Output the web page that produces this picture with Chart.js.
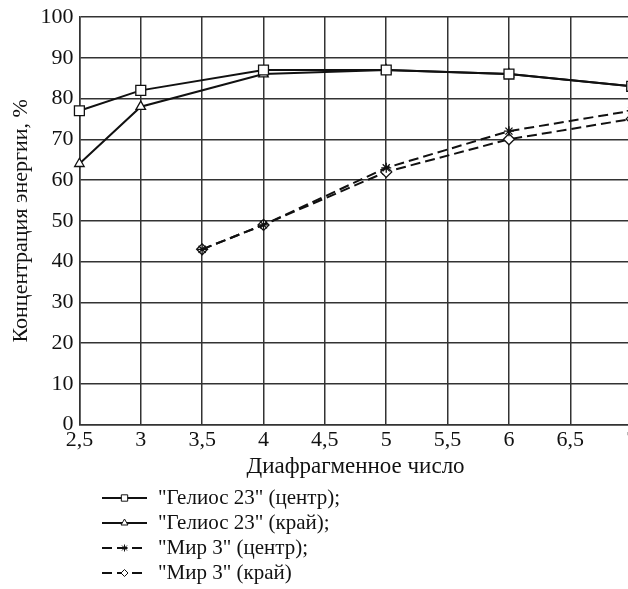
<!DOCTYPE html>
<html>
<head>
<meta charset="utf-8">
<script src="https://cdn.jsdelivr.net/npm/chart.js@4.4.1/dist/chart.umd.min.js"></script>
<style>
  html, body { margin: 0; padding: 0; background: #fff; overflow: hidden; }
  #wrap { width: 640px; height: 589px; position: relative; }
</style>
</head>
<body>
<div id="wrap"><canvas id="c" width="640" height="589"></canvas></div>
<script>
// ---- data ----
const heliosF = [2.5, 3, 4, 5, 6, 7];
const heliosCenter = [77, 82, 87, 87, 86, 83];
const heliosEdge = [64, 78, 86, 87, 86, 83];
const mirF = [3.5, 4, 5, 6, 7];
const mirCenter = [43, 49, 63, 72, 77];
const mirEdge = [43, 49, 62, 70, 75];
const seriesLabels = ['"Гелиос 23" (центр);', '"Гелиос 23" (край);', '"Мир 3" (центр);', '"Мир 3" (край)'];
const xTitle = 'Диафрагменное число';
const yTitle = 'Концентрация энергии, %';

const toPts = (xs, ys) => xs.map((x, i) => ({x: x, y: ys[i]}));
const FONT = '"Liberation Serif", "Times New Roman", serif';
const INK = '#111';

function ds(label, data, style, dashed, r) {
  return {
    label, data,
    borderColor: INK, borderWidth: 2,
    borderDash: dashed ? [10, 5] : [],
    pointStyle: style,
    pointRadius: r,
    pointBackgroundColor: '#fff',
    pointBorderColor: INK,
    pointBorderWidth: 1.3,
    tension: 0, fill: false
  };
}

const legendPlugin = {
  id: 'customLegend',
  afterDraw(chart) {
    const ctx = chart.ctx;
    const rows = [498, 523, 548, 573];
    const mr = [4.5, 4, 3.5, 3.5];
    chart.data.datasets.forEach((d, i) => {
      const y = rows[i];
      ctx.save();
      ctx.strokeStyle = INK;
      ctx.lineWidth = 2;
      ctx.setLineDash(d.borderDash || []);
      ctx.beginPath();
      ctx.moveTo(102, y);
      ctx.lineTo(147, y);
      ctx.stroke();
      ctx.setLineDash([]);
      ctx.fillStyle = '#fff';
      ctx.lineWidth = 1;
      Chart.helpers.drawPoint(ctx, {pointStyle: d.pointStyle, radius: mr[i], rotation: 0, borderWidth: 1}, 124.5, y);
      ctx.fillStyle = INK;
      ctx.font = '21px ' + FONT;
      ctx.textBaseline = 'middle';
      ctx.textAlign = 'left';
      ctx.fillText(d.label, 158, y);
      ctx.restore();
    });
  }
};

new Chart(document.getElementById('c'), {
  type: 'line',
  data: {
    datasets: [
      ds(seriesLabels[0], toPts(heliosF, heliosCenter), 'rect', false, 7),
      ds(seriesLabels[1], toPts(heliosF, heliosEdge), 'triangle', false, 5.5),
      ds(seriesLabels[2], toPts(mirF, mirCenter), 'star', true, 5),
      ds(seriesLabels[3], toPts(mirF, mirEdge), 'rectRot', true, 5.5)
    ]
  },
  options: {
    responsive: false,
    animation: false,
    clip: false,
    layout: { padding: { top: 3, left: 8, right: 7, bottom: 111 } },
    plugins: { legend: { display: false }, tooltip: { enabled: false } },
    scales: {
      x: {
        type: 'linear', min: 2.5, max: 7,
        ticks: { stepSize: 0.5, color: INK, padding: 2, font: { family: FONT, size: 22 },
          callback: v => String(v).replace('.', ',') },
        grid: { color: '#333', lineWidth: 1.5, drawTicks: false },
        border: { color: '#333', width: 1.5 },
        title: { display: true, text: xTitle, color: INK, font: { family: FONT, size: 23, lineHeight: 1.0 }, padding: { top: 0, bottom: 0 } }
      },
      y: {
        min: 0, max: 100,
        ticks: { stepSize: 10, color: INK, padding: 6, font: { family: FONT, size: 22, lineHeight: 1.0 } },
        grid: { color: '#333', lineWidth: 1.5, drawTicks: false },
        border: { color: '#333', width: 1.5 },
        title: { display: true, text: yTitle, color: INK, font: { family: FONT, size: 22 }, padding: { top: 0, bottom: 0 } }
      }
    }
  },
  plugins: [legendPlugin]
});
</script>
</body>
</html>
